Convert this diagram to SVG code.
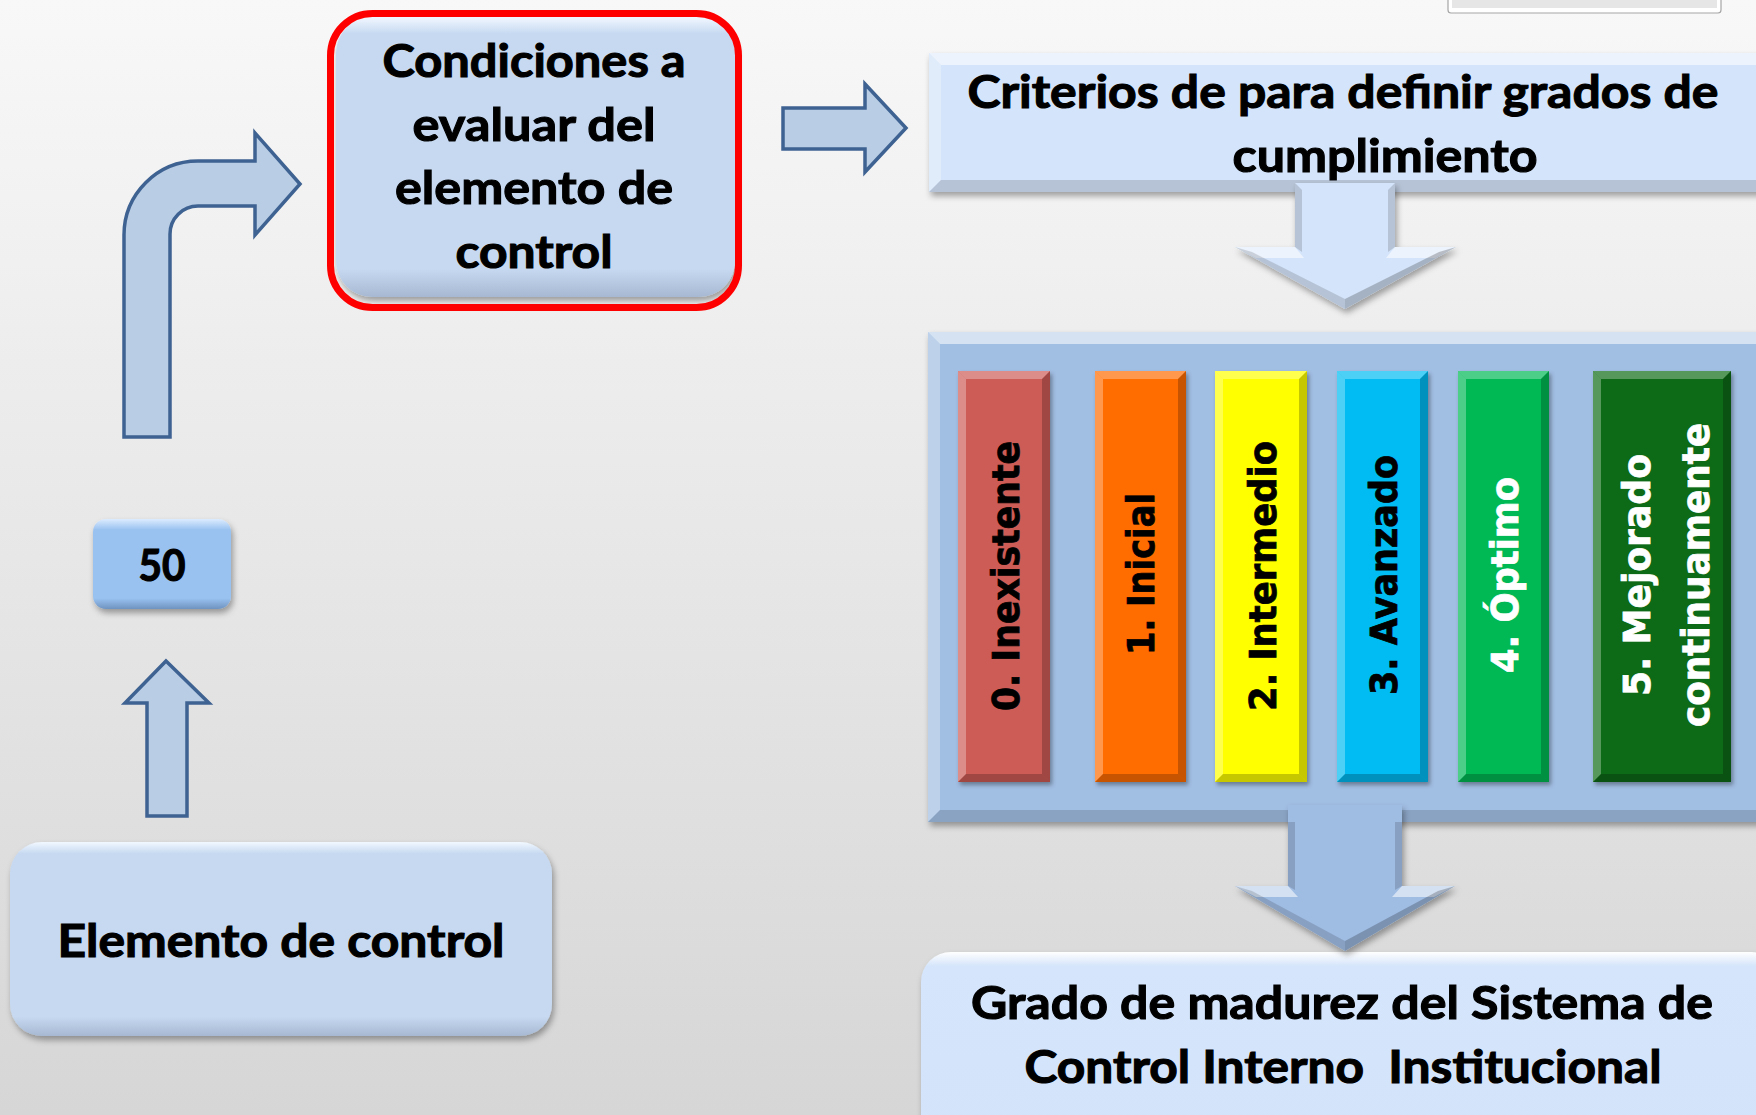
<svg xmlns="http://www.w3.org/2000/svg" width="1756" height="1115" viewBox="0 0 1756 1115">
<defs>
<linearGradient id="bg" x1="0" y1="0" x2="0" y2="1">
<stop offset="0" stop-color="#f8f8f8"/>
<stop offset="1" stop-color="#d6d6d6"/>
</linearGradient>
<linearGradient id="gBox" x1="0" y1="0" x2="0" y2="1">
<stop offset="0" stop-color="#f2f8ff"/>
<stop offset="0.06" stop-color="#c6d9f1"/>
<stop offset="0.9" stop-color="#c6d9f1"/>
<stop offset="1" stop-color="#a7b9d2"/>
</linearGradient>
<linearGradient id="gLight" x1="0" y1="0" x2="0" y2="1">
<stop offset="0" stop-color="#ffffff"/>
<stop offset="0.07" stop-color="#d5e5fb"/>
<stop offset="1" stop-color="#d3e3f9"/>
</linearGradient>
<linearGradient id="g50" x1="0" y1="0" x2="0" y2="1">
<stop offset="0" stop-color="#dcecff"/>
<stop offset="0.12" stop-color="#99c2f0"/>
<stop offset="0.88" stop-color="#99c2f0"/>
<stop offset="1" stop-color="#6f93c0"/>
</linearGradient>
<filter id="sh" x="-10%" y="-10%" width="120%" height="130%">
<feDropShadow dx="2" dy="4" stdDeviation="3" flood-color="#000" flood-opacity="0.35"/>
</filter>
<filter id="shs" x="-10%" y="-10%" width="130%" height="130%">
<feDropShadow dx="2" dy="3" stdDeviation="2" flood-color="#000" flood-opacity="0.35"/>
</filter>
</defs>
<style>
.t{font-family:Lato,"Open Sans","Liberation Sans",sans-serif;font-weight:bold;fill:#000;stroke:#000;stroke-width:1.1px;text-anchor:middle}
.tb{font-size:46px}
.bt{font-family:"DejaVu Sans",Verdana,sans-serif;font-weight:bold;font-size:37px;stroke-width:0.8px;text-anchor:middle}
.hl{fill:#fff;opacity:.55}
.hl2{fill:#fff;opacity:.3}
.dk{fill:#000;opacity:.14}
.dk2{fill:#000;opacity:.22}
.arr{fill:#b9cde5;stroke:#3e6291;stroke-width:3.5;stroke-linejoin:miter}
</style>
<rect x="0" y="0" width="1756" height="1115" fill="url(#bg)"/>
<g id="corner-widget">
<rect x="1448" y="-6" width="273" height="19" rx="3" fill="#ffffff" stroke="#a6a6a6" stroke-width="1.2"/>
<rect x="1452" y="-3" width="265" height="11" fill="#e6e6e6"/>
</g>

<g id="node-condiciones">
<rect x="336" y="17" width="399" height="280" rx="36" fill="url(#gBox)" filter="url(#sh)"/>
<rect x="330.5" y="13.5" width="408" height="294" rx="42" fill="none" stroke="#ff0000" stroke-width="7"/>
<text class="t tb" x="534" y="77" textLength="303" lengthAdjust="spacingAndGlyphs">Condiciones a</text>
<text class="t tb" x="534" y="141" textLength="243" lengthAdjust="spacingAndGlyphs">evaluar del</text>
<text class="t tb" x="534" y="204" textLength="278" lengthAdjust="spacingAndGlyphs">elemento de</text>
<text class="t tb" x="534" y="268" textLength="157" lengthAdjust="spacingAndGlyphs">control</text>
</g>

<g id="node-criterios">
<rect x="929" y="53" width="850" height="139" fill="#d4e4fa" filter="url(#sh)"/>
<polygon class="hl" points="929,53 1779,53 1767,65 941,65"/>
<polygon class="hl2" points="929,53 941,65 941,180 929,192"/>
<polygon class="dk" points="929,192 941,180 1767,180 1779,192"/>
<text class="t tb" x="1343" y="108" textLength="751" lengthAdjust="spacingAndGlyphs">Criterios de para definir grados de</text>
<text class="t tb" x="1385" y="172" textLength="305" lengthAdjust="spacingAndGlyphs">cumplimiento</text>
</g>

<g id="node-grados">
<rect x="928" y="332" width="850" height="490" fill="#a1bee3" filter="url(#sh)"/>
<polygon class="hl" points="928,332 1778,332 1766,344 940,344"/>
<polygon class="hl2" points="928,332 940,344 940,810 928,822"/>
<polygon class="dk" points="928,822 940,810 1766,810 1778,822"/>
</g>

<g id="bar-0">
<rect x="958" y="371" width="92" height="411" fill="#cd5b57" filter="url(#shs)"/>
<polygon class="hl2" points="958,371 966,379 966,774 958,782"/>
<polygon class="hl2" points="958,371 1050,371 1042,379 966,379"/>
<polygon class="dk2" points="1050,371 1042,379 1042,774 1050,782"/>
<polygon class="dk2" points="958,782 966,774 1042,774 1050,782"/>
<text class="bt" transform="translate(1019,576) rotate(-90)" fill="#000" stroke="#000" textLength="270" lengthAdjust="spacingAndGlyphs">0. Inexistente</text>
</g>
<g id="bar-1">
<rect x="1095" y="371" width="91" height="411" fill="#ff6c05" filter="url(#shs)"/>
<polygon class="hl2" points="1095,371 1103,379 1103,774 1095,782"/>
<polygon class="hl2" points="1095,371 1186,371 1178,379 1103,379"/>
<polygon class="dk2" points="1186,371 1178,379 1178,774 1186,782"/>
<polygon class="dk2" points="1095,782 1103,774 1178,774 1186,782"/>
<text class="bt" transform="translate(1154,574) rotate(-90)" fill="#000" stroke="#000" textLength="162" lengthAdjust="spacingAndGlyphs">1. Inicial</text>
</g>
<g id="bar-2">
<rect x="1215" y="371" width="92" height="411" fill="#ffff00" filter="url(#shs)"/>
<polygon class="hl2" points="1215,371 1223,379 1223,774 1215,782"/>
<polygon class="hl2" points="1215,371 1307,371 1299,379 1223,379"/>
<polygon class="dk2" points="1307,371 1299,379 1299,774 1307,782"/>
<polygon class="dk2" points="1215,782 1223,774 1299,774 1307,782"/>
<text class="bt" transform="translate(1276,576) rotate(-90)" fill="#000" stroke="#000" textLength="270" lengthAdjust="spacingAndGlyphs">2. Intermedio</text>
</g>
<g id="bar-3">
<rect x="1337" y="371" width="91" height="411" fill="#00bcf2" filter="url(#shs)"/>
<polygon class="hl2" points="1337,371 1345,379 1345,774 1337,782"/>
<polygon class="hl2" points="1337,371 1428,371 1420,379 1345,379"/>
<polygon class="dk2" points="1428,371 1420,379 1420,774 1428,782"/>
<polygon class="dk2" points="1337,782 1345,774 1420,774 1428,782"/>
<text class="bt" transform="translate(1397,575) rotate(-90)" fill="#000" stroke="#000" textLength="240" lengthAdjust="spacingAndGlyphs">3. Avanzado</text>
</g>
<g id="bar-4">
<rect x="1458" y="371" width="91" height="411" fill="#03b955" filter="url(#shs)"/>
<polygon class="hl2" points="1458,371 1466,379 1466,774 1458,782"/>
<polygon class="hl2" points="1458,371 1549,371 1541,379 1466,379"/>
<polygon class="dk2" points="1549,371 1541,379 1541,774 1549,782"/>
<polygon class="dk2" points="1458,782 1466,774 1541,774 1549,782"/>
<text class="bt" transform="translate(1518,575) rotate(-90)" fill="#fff" stroke="#fff" textLength="196" lengthAdjust="spacingAndGlyphs">4. Óptimo</text>
</g>
<g id="bar-5">
<rect x="1593" y="371" width="138" height="411" fill="#0b6b12" filter="url(#shs)"/>
<polygon class="hl2" points="1593,371 1601,379 1601,774 1593,782"/>
<polygon class="hl2" points="1593,371 1731,371 1723,379 1601,379"/>
<polygon class="dk2" points="1731,371 1723,379 1723,774 1731,782"/>
<polygon class="dk2" points="1593,782 1601,774 1723,774 1731,782"/>
<text class="bt" transform="translate(1650,575) rotate(-90)" fill="#fff" stroke="#fff"><tspan x="0" y="0" textLength="242" lengthAdjust="spacingAndGlyphs">5. Mejorado</tspan><tspan x="0" y="59" textLength="304" lengthAdjust="spacingAndGlyphs">continuamente</tspan></text>
</g>

<g id="node-madurez">
<rect x="921" y="952" width="860" height="200" rx="30" fill="url(#gLight)" filter="url(#sh)"/>
<text class="t tb" x="1342" y="1019" textLength="742" lengthAdjust="spacingAndGlyphs">Grado de madurez del Sistema de</text>
<text class="t tb" x="1343" y="1083" textLength="637" lengthAdjust="spacingAndGlyphs" style="white-space:pre">Control Interno  Institucional</text>
</g>

<g id="node-elemento">
<rect x="10" y="842" width="542" height="194" rx="32" fill="url(#gBox)" filter="url(#sh)"/>
<text class="t tb" x="281" y="957" textLength="447" lengthAdjust="spacingAndGlyphs">Elemento de control</text>
</g>

<g id="node-50">
<rect x="93" y="519" width="138" height="90" rx="13" fill="url(#g50)" filter="url(#sh)"/>
<text class="t" x="162" y="581" font-size="43" textLength="47" lengthAdjust="spacingAndGlyphs">50</text>
</g>

<g id="connectors">
<path class="arr" d="M124,437 L124,235 A74,74 0 0 1 198,161 L255,161 L255,133 L300,184 L255,235 L255,206 L198,206 A28,28 0 0 0 170,234 L170,437 Z"/>
<path class="arr" d="M166,661 L209,703 L187,703 L187,816 L147,816 L147,703 L125,703 Z"/>
<path class="arr" d="M783,108 L865,108 L865,84 L906,128 L865,172 L865,149 L783,149 Z"/>
<g id="arrow-down-1" filter="url(#sh)">
<path d="M1295,183 L1395,183 L1395,247 L1456,247 L1345,309 L1235,247 L1295,247 Z" fill="#d4e4fa"/>
<polygon class="dk" points="1295,183 1302,190 1302,252 1295,247"/>
<polygon class="dk" points="1395,183 1388,190 1388,252 1395,247"/>
<polygon class="hl" points="1235,247 1295,247 1304,258 1256,258"/>
<polygon class="hl" points="1456,247 1395,247 1386,258 1435,258"/>
<polygon class="dk" points="1235,247 1345,309 1345,299 1252,252"/>
<polygon class="dk2" points="1456,247 1345,309 1345,299 1439,252"/>
</g>
<g id="arrow-down-2" filter="url(#sh)">
<path d="M1288,805 L1402,805 L1402,886 L1455,886 L1345,951 L1235,886 L1288,886 Z" fill="#9fbce3"/>
<polygon class="dk" points="1288,822 1295,822 1295,890 1288,886"/>
<polygon class="dk" points="1402,822 1395,822 1395,890 1402,886"/>
<polygon class="hl" points="1235,886 1288,886 1298,897 1256,897"/>
<polygon class="hl" points="1455,886 1402,886 1392,897 1434,897"/>
<polygon class="dk" points="1235,886 1345,951 1345,941 1252,891"/>
<polygon class="dk2" points="1455,886 1345,951 1345,941 1438,891"/>
</g>
</g>
</svg>
